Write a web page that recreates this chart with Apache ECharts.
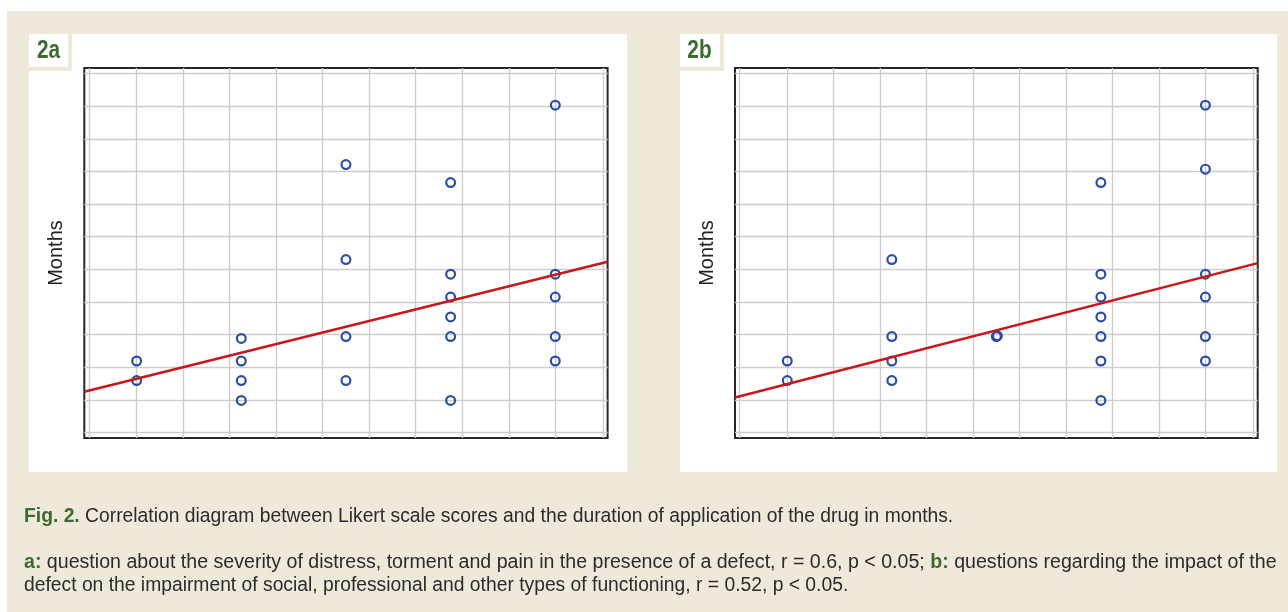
<!DOCTYPE html>
<html><head><meta charset="utf-8">
<script src="https://cdn.jsdelivr.net/npm/echarts@6/dist/echarts.min.js"></script>
<style>html,body{margin:0;padding:0;background:#fff;}#c{width:1288px;height:612px;}</style>
</head><body><div id="c"></div>
<script>
// Likert scores (x) and duration in months (y), panel 2a
const scoresA = [1, 1, 2, 2, 2, 2, 3, 3, 3, 3, 4, 4, 4, 4, 4, 4, 5, 5, 5, 5, 5];
const monthsA = [2.19, 1.59, 2.88, 2.19, 1.59, 0.98, 8.21, 5.30, 2.94, 1.59, 7.66, 4.85, 4.15, 3.54, 2.94, 0.98, 10.03, 4.85, 4.15, 2.94, 2.19];
// panel 2b
const scoresB = [1, 1, 2, 2, 2, 2, 3, 3.01, 4, 4, 4, 4, 4, 4, 4, 5, 5, 5, 5, 5, 5];
const monthsB = [2.19, 1.59, 5.30, 2.94, 2.19, 1.59, 2.94, 2.96, 7.66, 4.85, 4.15, 3.54, 2.94, 2.19, 0.98, 10.03, 8.07, 4.85, 4.15, 2.94, 2.19];
// regression lines (endpoints at the axis edges)
const fitX = [0.5, 5.5];
const fitA = [1.25, 5.23];
const fitB = [1.07, 5.19];
// grid line positions
const xGridTicks = [0.545, 1, 1.4444, 1.8889, 2.3333, 2.7778, 3.2222, 3.6667, 4.1111, 4.5556, 5, 5.455];
const yGridTicks = [0, 1, 2, 3, 4, 5, 6, 7, 8, 9, 10, 11];
const panelLabels = ['2a', '2b'];

const BEIGE = '#efe9dc';
const GREEN = '#3b6b2e';
const FONT = 'Liberation Sans, Arial, sans-serif';

function pairs(xs, ys) { return xs.map((x, i) => [x, ys[i]]); }

const grids = [
  {left: 84.3, top: 68, width: 523.3, height: 370},
  {left: 735, top: 68, width: 522.7, height: 370}
].map(g => Object.assign(g, {show: true, backgroundColor: '#fff', borderColor: '#262626', borderWidth: 2, containLabel: false}));

function xAx(i) {
  return {gridIndex: i, type: 'value', min: 0.5, max: 5.5,
    axisLine: {show: false}, axisTick: {show: false, customValues: xGridTicks},
    axisLabel: {show: false}, splitLine: {show: true, lineStyle: {color: '#cdcdcd', width: 1.4}}};
}
function yAx(i) {
  return {gridIndex: i, type: 'value', min: -0.17, max: 11.17,
    name: 'Months', nameLocation: 'middle', nameRotate: 90, nameGap: 18,
    nameTextStyle: {fontFamily: FONT, fontSize: 20, color: '#222'},
    axisLine: {show: false}, axisTick: {show: false, customValues: yGridTicks},
    axisLabel: {show: false}, splitLine: {show: true, lineStyle: {color: '#cdcdcd', width: 1.4}}};
}
function scatter(i, xs, ys) {
  return {type: 'scatter', xAxisIndex: i, yAxisIndex: i, data: pairs(xs, ys), symbol: 'circle', symbolSize: 8.8,
    itemStyle: {color: 'rgba(255,255,255,0)', borderColor: '#2c4fa0', borderWidth: 2.2, opacity: 1}, silent: true, z: 2};
}
function fit(i, ys) {
  return {type: 'line', xAxisIndex: i, yAxisIndex: i, data: pairs(fitX, ys), showSymbol: false, symbol: 'none',
    lineStyle: {color: '#c8161d', width: 2.5}, silent: true, z: 3, animation: false};
}

const chart = echarts.init(document.getElementById('c'), null, {renderer: 'canvas'});
const labelFont = 'bold 26px "Liberation Sans", Arial, sans-serif';
const graphic = [
  {type: 'rect', z: -10, shape: {x: 7, y: 11, width: 1281, height: 601}, style: {fill: BEIGE}},
  {type: 'rect', z: -9, shape: {x: 29, y: 34, width: 598, height: 438}, style: {fill: '#fff'}},
  {type: 'rect', z: -9, shape: {x: 680, y: 34, width: 597, height: 438}, style: {fill: '#fff'}},
  {type: 'rect', z: -8, shape: {x: 68, y: 34, width: 4, height: 37}, style: {fill: BEIGE}},
  {type: 'rect', z: -8, shape: {x: 29, y: 67, width: 43, height: 4}, style: {fill: BEIGE}},
  {type: 'rect', z: -8, shape: {x: 720, y: 34, width: 4, height: 37}, style: {fill: BEIGE}},
  {type: 'rect', z: -8, shape: {x: 680, y: 67, width: 44, height: 4}, style: {fill: BEIGE}},
  {type: 'text', z: 10, x: 48.5, y: 51, scaleX: 0.8, style: {text: panelLabels[0], fill: GREEN, font: labelFont, align: 'center', verticalAlign: 'middle'}},
  {type: 'text', z: 10, x: 699.5, y: 51, scaleX: 0.8, style: {text: panelLabels[1], fill: GREEN, font: labelFont, align: 'center', verticalAlign: 'middle'}},
  {type: 'text', z: 10, x: 24, y: 516.5, style: {text: '{g|Fig. 2.} Correlation diagram between Likert scale scores and the duration of application of the drug in months.',
    fill: '#2b2b2b', fontSize: 19.3, fontFamily: FONT, verticalAlign: 'middle', rich: {g: {fill: GREEN, fontWeight: 'bold', fontSize: 19.3, fontFamily: FONT}}}},
  {type: 'text', z: 10, x: 24, y: 562.5, style: {text: '{g|a:} question about the severity of distress, torment and pain in the presence of a defect, r = 0.6, p < 0.05; {g|b:} questions regarding the impact of the',
    fill: '#2b2b2b', fontSize: 19.6, fontFamily: FONT, verticalAlign: 'middle', rich: {g: {fill: GREEN, fontWeight: 'bold', fontSize: 19.6, fontFamily: FONT}}}},
  {type: 'text', z: 10, x: 24, y: 585.5, style: {text: 'defect on the impairment of social, professional and other types of functioning, r = 0.52, p < 0.05.',
    fill: '#2b2b2b', fontSize: 19.3, fontFamily: FONT, verticalAlign: 'middle'}}
];

chart.setOption({
  animation: false,
  backgroundColor: '#fff',
  graphic: graphic,
  grid: grids,
  xAxis: [xAx(0), xAx(1)],
  yAxis: [yAx(0), yAx(1)],
  series: [scatter(0, scoresA, monthsA), fit(0, fitA), scatter(1, scoresB, monthsB), fit(1, fitB)]
});
</script></body></html>
